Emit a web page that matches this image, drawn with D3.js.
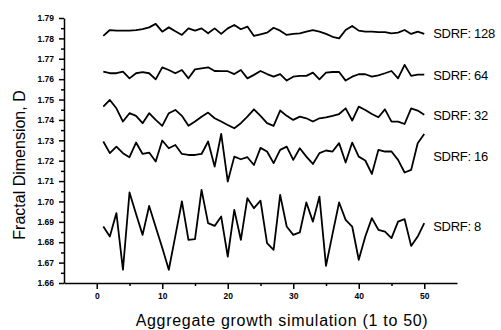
<!DOCTYPE html>
<html>
<head>
<meta charset="utf-8">
<script src="https://cdn.jsdelivr.net/npm/d3@7.9.0/dist/d3.min.js"></script>
<style>
  html, body { margin: 0; padding: 0; background: #fff; }
  svg { display: block; font-family: "Liberation Sans", Arial, sans-serif; }
  .tick text { font-weight: bold; font-size: 8.5px; fill: #000; }
  .axis path, .axis line { stroke: #000; stroke-width: 1.5; }
</style>
</head>
<body>
<svg id="chart" width="501" height="330"></svg>
<script>
// simulation number 1..50
const runs = d3.range(1, 51);

const sdrf128 = [
  1.7812, 1.7841, 1.7838, 1.7838, 1.7838, 1.7841, 1.7845, 1.7854, 1.7871, 1.7833,
  1.7854, 1.7835, 1.7817, 1.7849, 1.7838, 1.7849, 1.7825, 1.7849, 1.7822, 1.7849,
  1.7866, 1.7845, 1.7858, 1.7812, 1.7820, 1.7828, 1.7852, 1.7838, 1.7817, 1.7822,
  1.7825, 1.7833, 1.7841, 1.7833, 1.7822, 1.7808, 1.7800, 1.7841, 1.7861, 1.7838,
  1.7833, 1.7833, 1.7831, 1.7831, 1.7825, 1.7828, 1.7841, 1.7822, 1.7833, 1.7822
];
const sdrf64 = [
  1.7637, 1.7629, 1.7629, 1.7637, 1.7604, 1.7629, 1.7634, 1.7629, 1.7599, 1.7658,
  1.7645, 1.7629, 1.7645, 1.7604, 1.7648, 1.7653, 1.7658, 1.7640, 1.7639, 1.7639,
  1.7625, 1.7645, 1.7604, 1.7621, 1.7640, 1.7625, 1.7612, 1.7625, 1.7593, 1.7612,
  1.7616, 1.7616, 1.7632, 1.7599, 1.7632, 1.7635, 1.7635, 1.7593, 1.7612, 1.7624,
  1.7624, 1.7612, 1.7619, 1.7629, 1.7640, 1.7604, 1.7670, 1.7616, 1.7622, 1.7622
];
const sdrf32 = [
  1.7465, 1.7498, 1.7457, 1.7392, 1.7433, 1.7420, 1.7384, 1.7433, 1.7400, 1.7371,
  1.7433, 1.7449, 1.7420, 1.7371, 1.7392, 1.7416, 1.7436, 1.7408, 1.7392, 1.7375,
  1.7359, 1.7384, 1.7416, 1.7452, 1.7420, 1.7384, 1.7371, 1.7446, 1.7420, 1.7400,
  1.7416, 1.7408, 1.7392, 1.7408, 1.7413, 1.7420, 1.7429, 1.7457, 1.7397, 1.7465,
  1.7449, 1.7429, 1.7413, 1.7452, 1.7392, 1.7392, 1.7380, 1.7457, 1.7446, 1.7425
];
const sdrf16 = [
  1.7294, 1.7237, 1.7269, 1.7237, 1.7217, 1.7289, 1.7233, 1.7240, 1.7196, 1.7299,
  1.7261, 1.7277, 1.7233, 1.7228, 1.7228, 1.7233, 1.7294, 1.7171, 1.7331, 1.7098,
  1.7220, 1.7207, 1.7217, 1.7179, 1.7263, 1.7245, 1.7188, 1.7253, 1.7269, 1.7204,
  1.7261, 1.7220, 1.7184, 1.7237, 1.7250, 1.7245, 1.7286, 1.7191, 1.7289, 1.7220,
  1.7201, 1.7135, 1.7253, 1.7245, 1.7245, 1.7204, 1.7142, 1.7155, 1.7286, 1.7331
];
const sdrf8 = [
  1.6877, 1.6828, 1.6943, 1.6665, 1.7044, 1.6939, 1.6836, 1.6978, 1.6875, 1.6773,
  1.6665, 1.6831, 1.7000, 1.6812, 1.6815, 1.7057, 1.6894, 1.6880, 1.6926, 1.6730,
  1.6959, 1.6812, 1.7016, 1.6967, 1.7004, 1.6796, 1.6763, 1.7032, 1.6877, 1.6836,
  1.6848, 1.6995, 1.6901, 1.7024, 1.6684, 1.6841, 1.6995, 1.6910, 1.6877, 1.6714,
  1.6828, 1.6918, 1.6861, 1.6852, 1.6820, 1.6901, 1.6913, 1.6782, 1.6828, 1.6894
];

const seriesNames = ['SDRF: 128', 'SDRF: 64', 'SDRF: 32', 'SDRF: 16', 'SDRF: 8'];
const seriesValues = [sdrf128, sdrf64, sdrf32, sdrf16, sdrf8];
// level (in D units) where each label sits
const labelLevels = [1.7826, 1.7621, 1.7424, 1.7219, 1.6880];

const yTicks = [1.66, 1.67, 1.68, 1.69, 1.70, 1.71, 1.72, 1.73, 1.74, 1.75, 1.76, 1.77, 1.78, 1.79];
const yMinor = [1.665, 1.675, 1.685, 1.695, 1.705, 1.715, 1.725, 1.735, 1.745, 1.755, 1.765, 1.775, 1.785];
const xTicks = [0, 10, 20, 30, 40, 50];
const xMinor = [5, 15, 25, 35, 45];

const svg = d3.select('#chart');

const xScale = d3.scaleLinear().domain([-5, 55]).range([64, 457]);
const yScale = d3.scaleLinear().domain([1.66, 1.79]).range([283, 18]);

// minor ticks first, majors drawn over them
svg.append('g')
  .attr('class', 'axis')
  .attr('transform', `translate(${xScale.range()[0]},0)`)
  .call(d3.axisLeft(yScale).tickValues(yMinor).tickSize(3).tickFormat(''))
  .call(g => g.select('.domain').remove());

svg.append('g')
  .attr('class', 'axis')
  .attr('transform', `translate(${xScale.range()[0]},0)`)
  .call(d3.axisLeft(yScale).tickValues(yTicks).tickSize(5).tickSizeOuter(0)
    .tickPadding(5).tickFormat(d3.format('.2f')));

svg.append('g')
  .attr('class', 'axis')
  .attr('transform', `translate(0,${yScale.range()[0]})`)
  .call(d3.axisBottom(xScale).tickValues(xMinor).tickSize(3).tickFormat(''))
  .call(g => g.select('.domain').remove());

svg.append('g')
  .attr('class', 'axis')
  .attr('transform', `translate(0,${yScale.range()[0]})`)
  .call(d3.axisBottom(xScale).tickValues(xTicks).tickSize(6).tickSizeOuter(0).tickPadding(4));

const line = d3.line()
  .x((d, i) => xScale(runs[i]))
  .y(d => yScale(d));

svg.append('g')
  .selectAll('path')
  .data(seriesValues)
  .join('path')
  .attr('d', line)
  .attr('fill', 'none')
  .attr('stroke', '#000')
  .attr('stroke-width', 1.8)
  .attr('stroke-linejoin', 'round');

svg.append('g')
  .selectAll('text')
  .data(seriesNames)
  .join('text')
  .attr('x', xScale(runs[runs.length - 1]) + 9)
  .attr('y', (d, i) => yScale(labelLevels[i]))
  .attr('dy', '0.36em')
  .attr('font-size', 13)
  .attr('letter-spacing', -0.3)
  .text(d => d);

svg.append('text')
  .attr('x', 282)
  .attr('y', 326)
  .attr('text-anchor', 'middle')
  .attr('font-size', 16)
  .attr('letter-spacing', 0.7)
  .text('Aggregate growth simulation (1 to 50)');

svg.append('text')
  .attr('transform', 'translate(25,165) rotate(-90)')
  .attr('text-anchor', 'middle')
  .attr('font-size', 16)
  .text('Fractal Dimension, D');
</script>
</body>
</html>
